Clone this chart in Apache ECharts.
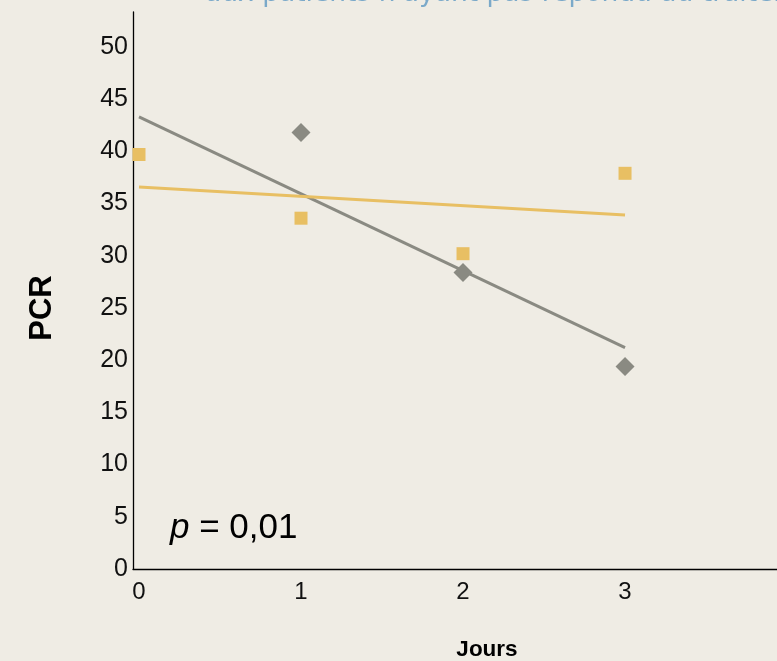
<!DOCTYPE html>
<html><head><meta charset="utf-8">
<script src="https://cdn.jsdelivr.net/npm/echarts@6/dist/echarts.min.js"></script>
<style>html,body{margin:0;padding:0;background:#efece4;}#c{width:777px;height:661px;}</style>
</head><body><div id="c"></div>
<script>
const days = [0, 1, 2, 3];
const yellowValues = [39.7, 33.6, 30.2, 37.9];
const grayValues = [null, 41.8, 28.4, 19.4];
const trendX = [0, 3];
const yellowTrend = [36.6, 33.9];
const grayTrend = [43.3, 21.2];
const yTicks = [0, 5, 10, 15, 20, 25, 30, 35, 40, 45, 50];
const xTicks = [0, 1, 2, 3];
const titleText = "aux patients n'ayant pas répondu au traitement";
const xName = 'Jours', yName = 'PCR';

const pairs = (xs, ys) => xs.map((x, i) => [x, ys[i]]).filter(p => p[1] !== null);
const chart = echarts.init(document.getElementById('c'));
const font = 'Liberation Sans, Arial, sans-serif';
chart.setOption({
  backgroundColor: '#efece4',
  animation: false,
  grid: {left: 133, top: 12, right: 0, bottom: 92, containLabel: false},
  xAxis: {
    type: 'value', min: -0.037, max: 3.938,
    splitLine: {show: false}, axisTick: {show: false},
    axisLine: {show: true, onZero: false, lineStyle: {color: '#000', width: 1.3}},
    axisLabel: {color: '#111', fontSize: 24, fontFamily: font, margin: 11,
      customValues: xTicks, formatter: v => String(Math.round(v))}
  },
  yAxis: {
    type: 'value', min: 0, max: 53.35, interval: 5,
    splitLine: {show: false}, axisTick: {show: false},
    axisLine: {show: true, onZero: false, lineStyle: {color: '#000', width: 1.3}},
    axisLabel: {color: '#111', fontSize: 25, fontFamily: font, margin: 5,
      formatter: v => yTicks.includes(v) ? String(v) : ''}
  },
  series: [
    {type: 'line', data: pairs(trendX, grayTrend), symbol: 'none',
     lineStyle: {color: '#8a8a82', width: 3}, z: 2},
    {type: 'line', data: pairs(trendX, yellowTrend), symbol: 'none',
     lineStyle: {color: '#e8bf63', width: 3}, z: 2},
    {type: 'scatter', data: pairs(days, grayValues), symbol: 'diamond', symbolSize: [19, 19],
     itemStyle: {color: '#8a8a82', opacity: 1}, z: 3},
    {type: 'scatter', data: pairs(days, yellowValues), symbol: 'rect', symbolSize: 13,
     itemStyle: {color: '#e8bf63', opacity: 1}, z: 4}
  ],
  graphic: [
    {type: 'text', left: 205, top: -19.5, style: {text: titleText, fill: '#7ba9c9', fontSize: 26.5, fontFamily: 'DejaVu Sans, sans-serif'}},
    {type: 'text', x: 42, y: 308, rotation: Math.PI / 2, style: {text: yName, fill: '#000', fontSize: 31, fontWeight: 'bold', fontFamily: font, align: 'center', verticalAlign: 'middle'}},
    {type: 'text', x: 487, y: 650, style: {text: xName, fill: '#000', fontSize: 22.5, fontWeight: 'bold', fontFamily: font, align: 'center', verticalAlign: 'middle'}},
    {type: 'text', x: 170, y: 528, style: {
      text: '{i|p} = 0,01', fill: '#000', fontSize: 35, fontFamily: font, verticalAlign: 'middle',
      rich: {i: {fontStyle: 'italic', fontSize: 35, fontFamily: font, fill: '#000'}}}}
  ]
});
</script></body></html>
